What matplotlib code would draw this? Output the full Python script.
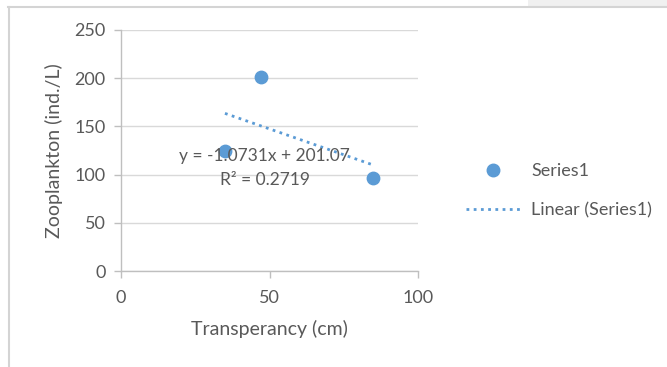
import matplotlib
matplotlib.use("Agg")
import matplotlib.pyplot as plt
from matplotlib.lines import Line2D
from matplotlib.patches import Rectangle
import numpy as np

plt.rcParams['font.family'] = ['Lato', 'DejaVu Sans']

# Data
transparency = [35, 47, 85]
zooplankton = [125, 201, 96]
slope = -1.0731
intercept = 201.07
r_squared = 0.2719
x_ticks = [0, 50, 100]
y_ticks = [0, 50, 100, 150, 200, 250]

blue = '#5b9bd5'
text_gray = '#595959'
grid_gray = '#d9d9d9'

fig = plt.figure(figsize=(6.67, 3.67), dpi=100)
fig.patch.set_facecolor('white')

# chart frame and the grey strip at the top-right
fig.patches.append(Rectangle((528/667, 1 - 6/367), 1 - 528/667, 6/367,
                             transform=fig.transFigure, facecolor='#f0f0f0',
                             edgecolor='none', zorder=0))
fig.lines.append(Line2D([8/667, 1], [1 - 6.5/367, 1 - 6.5/367],
                        transform=fig.transFigure, color='#d4d4d4', lw=1.5))
fig.lines.append(Line2D([8.5/667, 8.5/667], [0, 1 - 6.5/367],
                        transform=fig.transFigure, color='#d4d4d4', lw=1.5))

ax = fig.add_axes([121/667, 1 - 271/367, (418 - 121)/667, (271 - 30)/367])
ax.set_xlim(0, 100)
ax.set_ylim(0, 250)
ax.set_xticks(x_ticks)
ax.set_yticks(y_ticks)
ax.yaxis.grid(True, color=grid_gray, lw=1)
ax.set_axisbelow(True)
for s in ['top', 'right']:
    ax.spines[s].set_visible(False)
for s in ['left', 'bottom']:
    ax.spines[s].set_color('#bfbfbf')
    ax.spines[s].set_linewidth(1)
ax.tick_params(axis='both', colors='#bfbfbf', labelcolor=text_gray,
               labelsize=13, length=5, width=1)
ax.tick_params(axis='x', pad=9)
ax.tick_params(axis='y', pad=6)

ax.scatter(transparency, zooplankton, s=80, color=blue, zorder=3, clip_on=False)

# Linear trendline across the observed x range
xs = np.array([min(transparency), max(transparency)])
ax.plot(xs, slope * xs + intercept, color=blue, lw=2, linestyle=(0, (1, 1.6)), zorder=2)

ax.text(48.3, 119, f"y = {slope:.4f}x + {intercept:.2f}", ha='center', va='center',
        fontsize=12.5, color=text_gray, zorder=4)
ax.text(48.6, 94.5, f"R² = {r_squared:.4f}", ha='center', va='center',
        fontsize=12.5, color=text_gray, zorder=4)

ax.set_xlabel('Transperancy (cm)', fontsize=14, color=text_gray, labelpad=10)
ax.set_ylabel('Zooplankton (ind./L)', fontsize=14, color=text_gray, labelpad=8)

handles = [
    Line2D([], [], marker='o', linestyle='none', color=blue, markersize=9),
    Line2D([], [], color=blue, lw=2, linestyle=(0, (1, 1.6))),
]
fig.legend(handles, ['Series1', 'Linear (Series1)'], loc='upper left',
           bbox_to_anchor=(466/667, 1 - 163/367), frameon=False,
           fontsize=13, labelcolor=text_gray, handlelength=3.0,
           handletextpad=0.6, labelspacing=1.28, borderaxespad=0, borderpad=0)

fig.savefig('out.png', dpi=100, facecolor='white')
